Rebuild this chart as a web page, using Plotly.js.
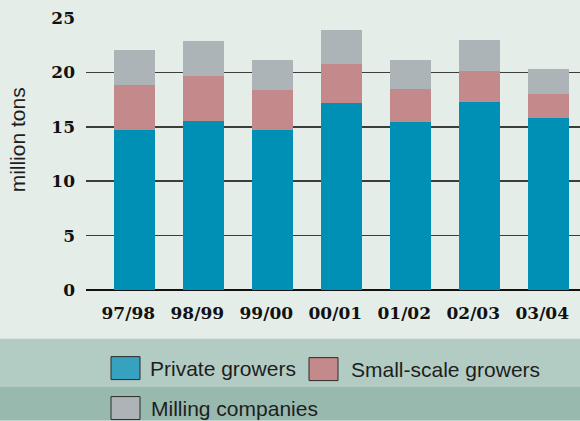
<!DOCTYPE html>
<html>
<head>
<meta charset="utf-8">
<script src="https://cdn.plot.ly/plotly-3.0.1.min.js"></script>
<style>html,body{margin:0;padding:0;background:#e4ede8;}#chart{width:580px;height:421px;}</style>
</head>
<body>
<div id="chart"></div>
<script>
// ---- data ----
var seasons = ["97/98", "98/99", "99/00", "00/01", "01/02", "02/03", "03/04"];
var privateGrowers = [14.7, 15.5, 14.7, 17.2, 15.4, 17.3, 15.8];
var smallScaleGrowers = [4.1, 4.2, 3.7, 3.6, 3.1, 2.8, 2.2];
var millingCompanies = [3.3, 3.2, 2.7, 3.1, 2.6, 2.9, 2.3];
var seriesNames = ["Private growers", "Small-scale growers", "Milling companies"];
var yTicks = [0, 5, 10, 15, 20, 25];
var yTitle = "million tons";

// ---- styles ----
var barColors = ["#0090b5", "#c48a8b", "#adb4b7"];
var swatchColors = ["#36a2bf", "#c4898a", "#adb3b6"];
var W = 580, H = 421;
var L = 86, R = 0, T = 18, B = 130.7;
var pw = W - L - R, ph = H - T - B;
function px(x) { return (x - L) / pw; }
function py(y) { return (H - B - y) / ph; }
var sansFont = "Liberation Sans, Arial, sans-serif";

var traces = [privateGrowers, smallScaleGrowers, millingCompanies].map(function (vals, i) {
  return {
    type: "bar", x: seasons, y: vals, name: seriesNames[i],
    marker: { color: barColors[i], line: { width: 0 } },
    hoverinfo: "skip"
  };
});

var shapes = [
  { type: "rect", xref: "paper", yref: "paper", x0: px(0), x1: px(W), y0: py(387), y1: py(339),
    fillcolor: "#b3ccc3", line: { width: 0 }, layer: "below" },
  { type: "rect", xref: "paper", yref: "paper", x0: px(0), x1: px(W), y0: py(H), y1: py(387),
    fillcolor: "#97b9ae", line: { width: 0 }, layer: "below" }
];
var legendPos = [
  { x: 111, y: 357, tx: 148 },
  { x: 309, y: 358, tx: 349 },
  { x: 111, y: 397, tx: 149 }
];
var annotations = [];
legendPos.forEach(function (p, i) {
  shapes.push({ type: "rect", xref: "paper", yref: "paper",
    x0: px(p.x), x1: px(p.x + 29), y0: py(p.y + 23), y1: py(p.y),
    fillcolor: swatchColors[i], line: { color: "#2a2a2a", width: 1 } });
  annotations.push({ xref: "paper", yref: "paper", x: px(p.tx), y: py(p.y + 11.5),
    xanchor: "left", yanchor: "middle", showarrow: false, text: seriesNames[i],
    font: { family: sansFont, size: 21, color: "#1e1e1e" } });
});
annotations.push({ xref: "paper", yref: "paper", x: px(17.5), y: py(140), textangle: -90,
  xanchor: "center", yanchor: "middle", showarrow: false, text: yTitle,
  font: { family: sansFont, size: 21, color: "#1e1e1e" } });

var layout = {
  width: W, height: H,
  margin: { l: L, r: R, t: T, b: B, pad: 0 },
  paper_bgcolor: "#e4ede8", plot_bgcolor: "#e4ede8",
  barmode: "stack", bargap: 0.4, showlegend: false,
  xaxis: {
    type: "category", range: [-0.7, 6.46], showgrid: false, zeroline: false,
    showline: false, ticks: "", ticklabelstandoff: 11, ticklabelshift: -6,
    tickfont: { family: "DejaVu Serif, serif", size: 17, color: "#111", weight: "bold" }
  },
  yaxis: {
    range: [0, 25], tickvals: yTicks, ticktext: yTicks.map(String),
    showgrid: true, gridcolor: "#3c3c3c", gridwidth: 1.5,
    zeroline: true, zerolinecolor: "#111", zerolinewidth: 1.5,
    showline: false, ticks: "", ticklabelstandoff: 10,
    tickfont: { family: "DejaVu Serif, serif", size: 17, color: "#111", weight: "bold" }
  },
  shapes: shapes,
  annotations: annotations
};
Plotly.newPlot("chart", traces, layout, { displayModeBar: false, staticPlot: true });
</script>
</body>
</html>
